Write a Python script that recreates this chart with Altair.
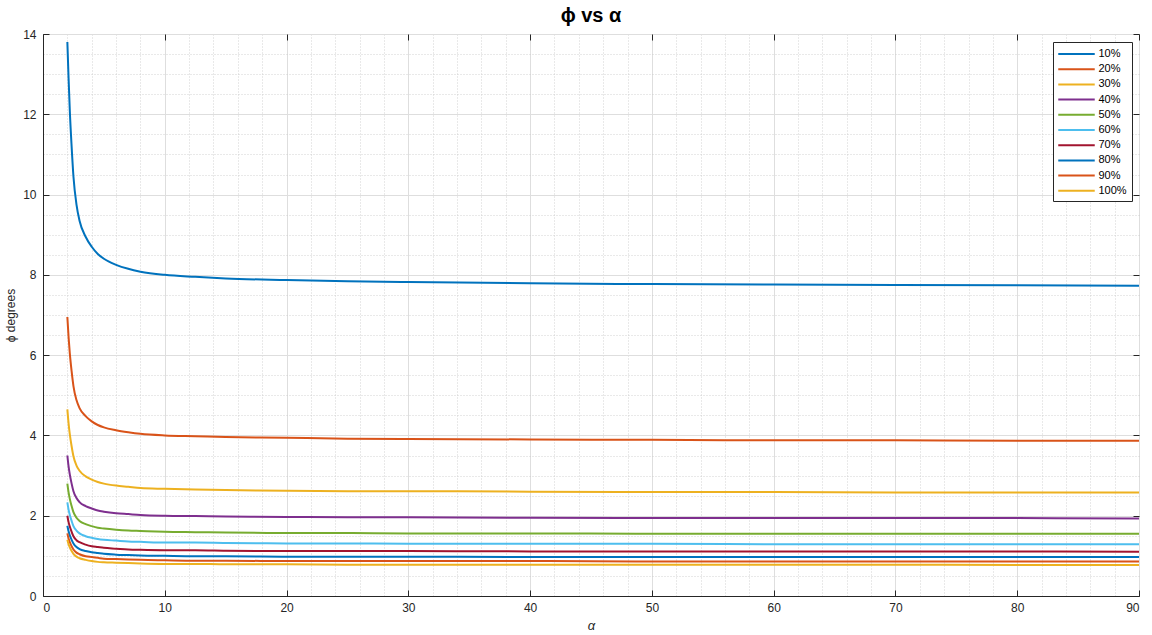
import altair as alt
import pandas as pd

# ---- data ----
ALPHA = [2, 2.1, 2.2, 2.35, 2.5, 2.75, 3, 3.5, 4, 4.5, 5, 6, 7, 8, 10, 12.5, 15, 20, 25, 30, 40, 50, 60, 70, 80, 90]

SERIES = ["10%", "20%", "30%", "40%", "50%", "60%", "70%", "80%", "90%", "100%"]

P10 = [13.80, 12.90, 12.10, 11.20, 10.45, 9.75, 9.35, 8.95, 8.70, 8.52, 8.40, 8.25, 8.15, 8.08, 8.00, 7.95, 7.91, 7.87, 7.84, 7.82, 7.79, 7.77, 7.76, 7.75, 7.74, 7.73]
P20 = [6.95, 6.45, 6.05, 5.60, 5.23, 4.88, 4.68, 4.48, 4.35, 4.26, 4.20, 4.13, 4.08, 4.04, 4.00, 3.98, 3.96, 3.94, 3.92, 3.91, 3.90, 3.89, 3.88, 3.88, 3.87, 3.87]
P30 = [4.65, 4.30, 4.03, 3.73, 3.48, 3.25, 3.12, 2.98, 2.90, 2.84, 2.80, 2.75, 2.72, 2.69, 2.67, 2.65, 2.64, 2.62, 2.61, 2.61, 2.60, 2.59, 2.59, 2.58, 2.58, 2.58]
P40 = [3.50, 3.23, 3.03, 2.80, 2.61, 2.44, 2.34, 2.24, 2.18, 2.13, 2.10, 2.06, 2.04, 2.02, 2.00, 1.99, 1.98, 1.97, 1.96, 1.96, 1.95, 1.94, 1.94, 1.94, 1.94, 1.93]
P50 = [2.80, 2.58, 2.42, 2.24, 2.09, 1.95, 1.87, 1.79, 1.74, 1.70, 1.68, 1.65, 1.63, 1.62, 1.60, 1.59, 1.58, 1.57, 1.57, 1.56, 1.56, 1.55, 1.55, 1.55, 1.55, 1.55]
P60 = [2.33, 2.15, 2.02, 1.87, 1.74, 1.63, 1.56, 1.49, 1.45, 1.42, 1.40, 1.38, 1.36, 1.35, 1.33, 1.33, 1.32, 1.31, 1.31, 1.30, 1.30, 1.30, 1.29, 1.29, 1.29, 1.29]
P70 = [2.00, 1.84, 1.73, 1.60, 1.49, 1.39, 1.34, 1.28, 1.24, 1.22, 1.20, 1.18, 1.16, 1.15, 1.14, 1.14, 1.13, 1.12, 1.12, 1.12, 1.11, 1.11, 1.11, 1.11, 1.11, 1.10]
P80 = [1.75, 1.61, 1.51, 1.40, 1.31, 1.22, 1.17, 1.12, 1.09, 1.07, 1.05, 1.03, 1.02, 1.01, 1.00, 0.99, 0.99, 0.98, 0.98, 0.98, 0.97, 0.97, 0.97, 0.97, 0.97, 0.97]
P90 = [1.56, 1.43, 1.34, 1.24, 1.16, 1.08, 1.04, 0.99, 0.97, 0.95, 0.93, 0.92, 0.91, 0.90, 0.89, 0.88, 0.88, 0.87, 0.87, 0.87, 0.87, 0.86, 0.86, 0.86, 0.86, 0.86]
P100 = [1.40, 1.29, 1.21, 1.12, 1.05, 0.98, 0.94, 0.90, 0.87, 0.85, 0.84, 0.83, 0.82, 0.81, 0.80, 0.80, 0.79, 0.79, 0.78, 0.78, 0.78, 0.78, 0.78, 0.78, 0.77, 0.77]

COLORS = ["#0072BD", "#D95319", "#EDB120", "#7E2F8E", "#77AC30",
          "#4DBEEE", "#A2142F", "#0072BD", "#D95319", "#EDB120"]

X_MAJOR = [0, 10, 20, 30, 40, 50, 60, 70, 80, 90]
X_MINOR = [2, 4, 6, 8, 12, 14, 16, 18, 22, 24, 26, 28, 32, 34, 36, 38, 42, 44, 46, 48,
           52, 54, 56, 58, 62, 64, 66, 68, 72, 74, 76, 78, 82, 84, 86, 88]
Y_MAJOR = [0, 2, 4, 6, 8, 10, 12, 14]
Y_MINOR = [0.5, 1, 1.5, 2.5, 3, 3.5, 4.5, 5, 5.5, 6.5, 7, 7.5, 8.5, 9, 9.5,
           10.5, 11, 11.5, 12.5, 13, 13.5]

rows = []
for name, vals in zip(SERIES, [P10, P20, P30, P40, P50, P60, P70, P80, P90, P100]):
    for a, v in zip(ALPHA, vals):
        rows.append({"alpha": a, "phi": v, "series": name})
df = pd.DataFrame(rows)

FONT = "Liberation Sans"
INK = "#262626"
W, H = 1096, 562

xscale = alt.Scale(domain=[0, 90], nice=False, zero=False)
yscale = alt.Scale(domain=[0, 14], nice=False, zero=False)

base = alt.Chart(df)

# minor grid (dotted)
minor = base.mark_line(opacity=0).encode(
    x=alt.X("alpha:Q", scale=xscale,
            axis=alt.Axis(values=X_MINOR, grid=True, gridDash=[1, 2], gridColor="#c8c8c8",
                          gridWidth=0.8, labels=False, ticks=False, domain=False, title=None,
                          orient="bottom")),
    y=alt.Y("phi:Q", scale=yscale,
            axis=alt.Axis(values=Y_MINOR, grid=True, gridDash=[1, 2], gridColor="#c8c8c8",
                          gridWidth=0.8, labels=False, ticks=False, domain=False, title=None,
                          orient="left")),
    detail="series:N",
)

lines = base.mark_line(strokeWidth=2, interpolate="monotone").encode(
    x=alt.X("alpha:Q", scale=xscale,
            axis=alt.Axis(values=X_MAJOR, grid=True, gridColor="#dedede", gridWidth=1,
                          ticks=False, domain=True, domainColor=INK, labelPadding=6,
                          labelFont=FONT, labelFontSize=12, labelColor=INK,
                          title="α", titleFont=FONT, titleFontSize=13, titleFontStyle="italic",
                          titleFontWeight="normal", titleColor=INK, titlePadding=6,
                          orient="bottom")),
    y=alt.Y("phi:Q", scale=yscale,
            axis=alt.Axis(values=Y_MAJOR, grid=True, gridColor="#dedede", gridWidth=1,
                          ticks=False, domain=True, domainColor=INK, labelPadding=7,
                          labelFont=FONT, labelFontSize=12, labelColor=INK,
                          title="ϕ degrees", titleFont=FONT, titleFontSize=12,
                          titleFontWeight="normal", titleColor=INK, titlePadding=5,
                          orient="left")),
    color=alt.Color("series:N", sort=SERIES,
                    scale=alt.Scale(domain=SERIES, range=COLORS),
                    legend=alt.Legend(title=None, orient="none", legendX=1010, legendY=8,
                                      symbolType="M-3.2,0H3.2", symbolSize=130,
                                      symbolStrokeWidth=2, symbolOffset=11.5,
                                      symbolFillColor="transparent",
                                      labelFont=FONT, labelFontSize=11, labelColor="#000",
                                      strokeColor=INK, fillColor="white", padding=5,
                                      rowPadding=3.2, labelOffset=15)),
)

def tick_layer(xo, yo):
    return base.mark_line(opacity=0).encode(
        x=alt.X("alpha:Q", scale=xscale,
                axis=alt.Axis(values=X_MAJOR, grid=False, labels=False, domain=False,
                              ticks=True, tickSize=6, offset=-6,
                              tickColor=INK, title=None, orient=xo)),
        y=alt.Y("phi:Q", scale=yscale,
                axis=alt.Axis(values=Y_MAJOR, grid=False, labels=False, domain=False,
                              ticks=True, tickSize=6, offset=-6, tickColor=INK,
                              title=None, orient=yo)),
        detail="series:N",
    )

chart = alt.layer(minor, lines, tick_layer("bottom", "left"), tick_layer("top", "right")).resolve_axis(
    x="independent", y="independent"
).properties(
    width=W, height=H,
    title=alt.TitleParams("ϕ vs α", font=FONT, fontSize=20, fontWeight="bold",
                          color="#000", anchor="middle", offset=2),
    autosize=alt.AutoSizeParams(type="none"),
    padding={"left": 43, "top": 34, "right": 13, "bottom": 39},
).configure_view(stroke=INK, strokeWidth=1).configure(background="white")

chart.save("out.html", embed_options={"renderer": "svg", "actions": False})
